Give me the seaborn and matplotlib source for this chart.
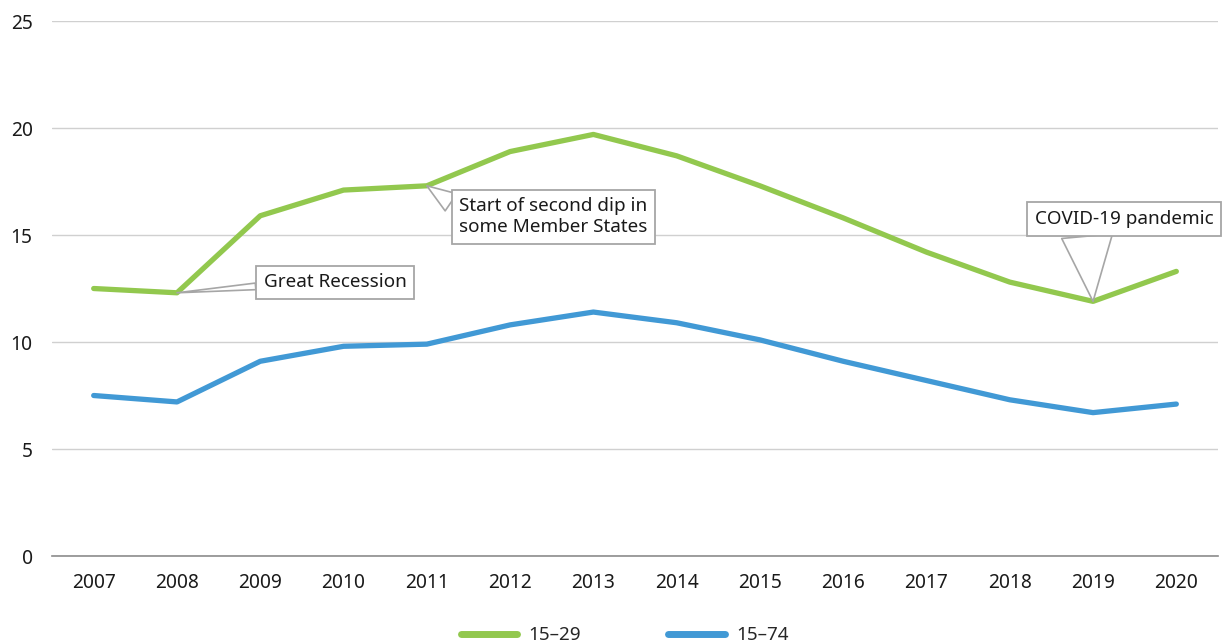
import matplotlib
matplotlib.use("Agg")
import matplotlib.pyplot as plt
import seaborn as sns
import pandas as pd
import numpy as np

years = ["2007", "2008", "2009", "2010", "2011", "2012", "2013",
         "2014", "2015", "2016", "2017", "2018", "2019", "2020"]
youth_15_29 = [12.5, 12.3, 15.9, 17.1, 17.3, 18.9, 19.7, 18.7, 17.3, 15.8, 14.2, 12.8, 11.9, 13.3]
total_15_74 = [7.5, 7.2, 9.1, 9.8, 9.9, 10.8, 11.4, 10.9, 10.1, 9.1, 8.2, 7.3, 6.7, 7.1]
series_names = ["15\u201329", "15\u201374"]
colors = ["#92c84e", "#4199d5"]
y_ticks = [0, 5, 10, 15, 20, 25]

sns.set_theme(style="white")
plt.rcParams["font.family"] = ["Noto Sans", "DejaVu Sans"]

df = pd.DataFrame({
    "idx": list(range(len(years))) * 2,
    "value": youth_15_29 + total_15_74,
    "series": [series_names[0]] * len(years) + [series_names[1]] * len(years),
})

fig = plt.figure(figsize=(12.22, 6.43), dpi=100)
ax = fig.add_axes([0.0426, 0.1353, 0.9541, 0.832])

sns.lineplot(data=df, x="idx", y="value", hue="series", palette=colors,
             linewidth=3.8, ax=ax, legend=True, solid_capstyle="round")

ax.set_xlim(-0.5, len(years) - 0.5)
ax.set_ylim(0, 25)
ax.set_yticks(y_ticks)
ax.set_xticks(range(len(years)))
ax.set_xticklabels(years)
ax.set_xlabel("")
ax.set_ylabel("")
ax.grid(axis="y", color="#d0d0d0", linewidth=1)
ax.set_axisbelow(True)
for s in ["top", "right", "left"]:
    ax.spines[s].set_visible(False)
ax.spines["bottom"].set_color("#8c8c8c")
ax.spines["bottom"].set_linewidth(1.2)
ax.tick_params(axis="both", length=0, labelsize=13.8, colors="#1a1a1a")
ax.tick_params(axis="y", pad=14)
ax.tick_params(axis="x", pad=12)

box = dict(boxstyle="square,pad=0.4", fc="white", ec="#a6a6a6", lw=1.3)
fs = 13.6

ax.annotate("Great Recession", xy=(1, youth_15_29[1]), xytext=(2.9, 12.8),
            ha="center", va="center", fontsize=fs, color="#1a1a1a", bbox=box,
            arrowprops=dict(arrowstyle="wedge,tail_width=0.35", fc="white",
                            ec="#a6a6a6", lw=1.2, shrinkA=0, shrinkB=0,
                            relpos=(0.0, 0.3)), zorder=5)

ax.annotate("Start of second dip in\nsome Member States", xy=(4, youth_15_29[4]),
            xytext=(5.52, 15.85), ha="center", va="center", fontsize=fs,
            color="#1a1a1a", bbox=box, linespacing=1.2,
            arrowprops=dict(arrowstyle="wedge,tail_width=1.1", fc="white",
                            ec="#a6a6a6", lw=1.2, shrinkA=0, shrinkB=0,
                            relpos=(0.0, 0.73)), zorder=5)

ax.annotate("COVID-19 pandemic", xy=(12, youth_15_29[12]), xytext=(12.37, 15.75),
            ha="center", va="center", fontsize=fs, color="#1a1a1a", bbox=box,
            arrowprops=dict(arrowstyle="wedge,tail_width=2.7", fc="white",
                            ec="#a6a6a6", lw=1.2, shrinkA=0, shrinkB=0,
                            relpos=(0.29, 0.0)), zorder=5)

handles, labels = ax.get_legend_handles_labels()
leg = ax.legend(handles, labels, loc="upper center", bbox_to_anchor=(0.491, -0.1),
                ncol=2, frameon=False, fontsize=fs, handlelength=3.0,
                columnspacing=4.6, handletextpad=0.6)
for h in leg.get_lines():
    h.set_linewidth(5)
    h.set_solid_capstyle("round")

fig.savefig("out.png", dpi=100)
